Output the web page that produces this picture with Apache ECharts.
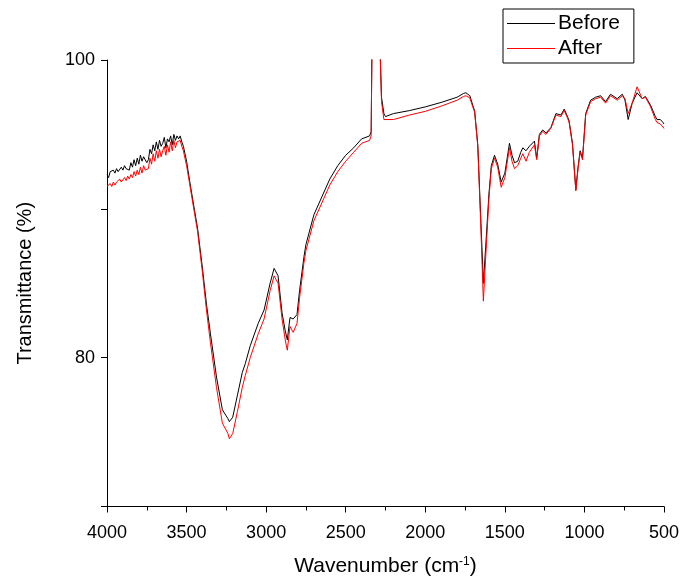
<!DOCTYPE html>
<html>
<head>
<meta charset="utf-8">
<script src="https://cdn.jsdelivr.net/npm/echarts@6/dist/echarts.min.js"></script>
<style>
html,body{margin:0;padding:0;background:#fff;}
#chart{width:682px;height:582px;}
</style>
</head>
<body>
<div id="chart"></div>
<script>
// Wavenumbers (cm-1)
var wavenumbers = [
4000,3990,3980,3970,3960,3950,3940,3930,3920,3910,3900,3890,3880,3870,3860,3850,3840,3830,3820,3810,
3800,3790,3780,3770,3760,3750,3740,3730,3720,3710,3700,3690,3680,3670,3660,3650,3640,3630,3620,3610,
3600,3590,3580,3570,3560,3550,3540,3530,3520,3510,3500,
3481,3450,3431,3400,3375,3350,
3312,3275,3240,3231,3210,3180,3150,3131,3100,3050,3013,2975,2950,2925,2900,2880,2867,2850,2830,2806,
2790,2762,2750,2700,2650,2600,2550,2500,2450,2400,2350,2340,2335,2320,2300,2285,2275,2260,2250,2200,
2100,2000,1900,1800,1760,1745,1720,1700,1690,1670,1650,1635,1620,1600,1585,1565,1545,1523,1500,1471,
1455,1439,1419,1400,1387,1367,1346,1314,1300,1283,1262,1242,1211,1179,1148,1127,1106,1096,1075,1054,
1040,1027,1012,992,961,930,898,867,836,794,762,745,725,700,669,637,617,586,554,544,
523,506,500
];
// Transmittance (%) before
var before = [
92.3,92.1,92.5,92.4,92.6,92.4,92.7,92.5,92.6,92.8,92.6,92.9,92.7,92.8,92.6,93.1,92.8,93.3,92.9,93.4,
93.0,93.6,93.2,93.5,93.4,93.1,93.3,94.0,93.7,94.3,93.9,94.5,94.0,94.6,94.2,94.4,94.8,94.1,94.7,94.5,
94.9,94.3,95.0,94.6,94.9,94.7,94.9,94.5,94.2,93.7,93.2,
91.9,89.9,88.7,86.0,83.6,81.6,
78.7,76.5,75.9,75.7,76.0,77.5,79.0,79.6,80.8,82.3,83.2,85.0,86.0,85.5,83.0,81.8,81.2,82.7,82.6,82.9,
84.5,86.8,87.6,89.6,90.8,92.0,92.9,93.6,94.1,94.7,94.9,95.2,101,105,105,101,97.5,96.4,96.2,96.4,
96.6,96.85,97.15,97.5,97.75,97.8,97.6,96.9,96.6,94.3,89.0,85.0,87.5,91.0,92.9,93.6,93.0,91.8,92.4,94.4,
93.6,93.1,93.2,93.8,94.1,93.9,94.2,94.55,93.4,95.0,95.3,95.1,95.45,96.4,96.3,96.7,96.2,95.9,94.4,91.3,
92.8,93.9,93.4,96.4,97.3,97.5,97.6,97.2,97.7,97.4,97.7,97.3,96.0,97.1,97.8,97.4,97.55,97.0,96.2,96.0,
96.0,95.8,95.7
];
// Transmittance (%) after
var after = [
91.5,91.4,91.7,91.5,91.8,91.6,91.8,91.7,92.0,91.8,91.9,92.1,91.9,92.2,92.0,92.3,92.1,92.5,92.2,92.6,
92.3,92.8,92.4,92.9,92.6,92.5,92.7,93.4,93.0,93.7,93.2,93.9,93.4,94.0,93.5,93.9,94.2,93.6,94.3,93.8,
94.5,93.9,94.6,94.1,94.5,94.4,94.6,94.2,93.9,93.4,92.9,
91.7,89.7,88.5,85.7,83.2,81.0,
78.0,75.6,74.9,74.55,74.9,76.4,78.0,78.8,80.0,81.6,82.6,84.5,85.5,85.0,82.6,81.2,80.5,82.1,81.7,82.3,
84.0,86.4,87.2,89.2,90.4,91.6,92.5,93.2,93.8,94.4,94.6,94.9,101,105,105,101,97.2,96.0,95.9,96.0,
96.3,96.55,96.9,97.3,97.55,97.6,97.45,96.8,96.5,94.2,88.5,83.8,86.8,90.7,92.7,93.4,92.8,91.45,92.1,94.1,
93.2,92.7,92.9,93.4,93.7,93.2,93.8,94.3,93.3,94.9,95.2,95.0,95.4,96.3,96.2,96.6,96.1,95.8,94.3,91.2,
92.7,93.8,93.3,96.3,97.2,97.4,97.5,97.1,97.6,97.3,97.6,97.4,96.4,97.1,98.2,97.4,97.5,96.9,96.0,95.8,
95.7,95.5,95.4
];
var xTicks = [4000,3500,3000,2500,2000,1500,1000,500];
var yLabels = [80,100];

function pairs(xs, ys){ var out=[]; for(var i=0;i<xs.length;i++) out.push([xs[i], ys[i]]); return out; }

var font = "'Liberation Sans', Arial, sans-serif";
var lineIcon = 'path://M0,0h48v1h-48z';
var chart = echarts.init(document.getElementById('chart'), null, {renderer:'canvas'});
chart.setOption({
  animation:false,
  backgroundColor:'#fff',
  grid:{left:107,right:15,top:60,bottom:72,containLabel:false},
  legend:{
    data:[{name:'Before',icon:lineIcon},{name:'After',icon:lineIcon}],
    orient:'vertical',
    left:503, top:9,
    borderColor:'#000', borderWidth:1, borderRadius:0,
    padding:[4,14,4,4],
    itemGap:4, itemWidth:48, itemHeight:14, symbolKeepAspect:true,
    textStyle:{fontFamily:font,fontSize:21,color:'#000',padding:[0,0,0,-2]}
  },
  xAxis:{
    type:'value', inverse:true, min:500, max:4000, interval:500,
    name:'Wavenumber (cm{sup|-1})', nameLocation:'middle', nameGap:49,
    nameTextStyle:{fontFamily:font,fontSize:21,color:'#000',
      rich:{sup:{fontFamily:font,fontSize:12,color:'#000',verticalAlign:'top',padding:[0,0,10,0]}}},
    axisLine:{lineStyle:{color:'#000',width:1}},
    axisTick:{show:true,inside:false,length:6,lineStyle:{color:'#000'}},
    minorTick:{show:true,splitNumber:2,length:4,lineStyle:{color:'#000'}},
    axisLabel:{fontFamily:font,fontSize:18,color:'#000',margin:18,
      formatter:function(v){return xTicks.indexOf(v)>=0?String(v):'';}},
    splitLine:{show:false}
  },
  yAxis:{
    type:'value', min:70, max:100, interval:10,
    name:'Transmittance (%)', nameLocation:'middle', nameGap:72,
    nameTextStyle:{fontFamily:font,fontSize:20,color:'#000'},
    axisLine:{show:true,lineStyle:{color:'#000',width:1}},
    axisTick:{show:true,inside:false,length:6,lineStyle:{color:'#000'}},
    axisLabel:{fontFamily:font,fontSize:18,color:'#000',margin:12,
      formatter:function(v){return yLabels.indexOf(v)>=0?String(v):'';}},
    splitLine:{show:false}
  },
  series:[
    {name:'Before',type:'line',data:pairs(wavenumbers,before),symbol:'none',clip:true,
     lineStyle:{color:'#000',width:1},itemStyle:{color:'#000'},z:2},
    {name:'After',type:'line',data:pairs(wavenumbers,after),symbol:'none',clip:true,
     lineStyle:{color:'#ff0000',width:1},itemStyle:{color:'#ff0000'},z:3}
  ]
});
</script>
</body>
</html>
